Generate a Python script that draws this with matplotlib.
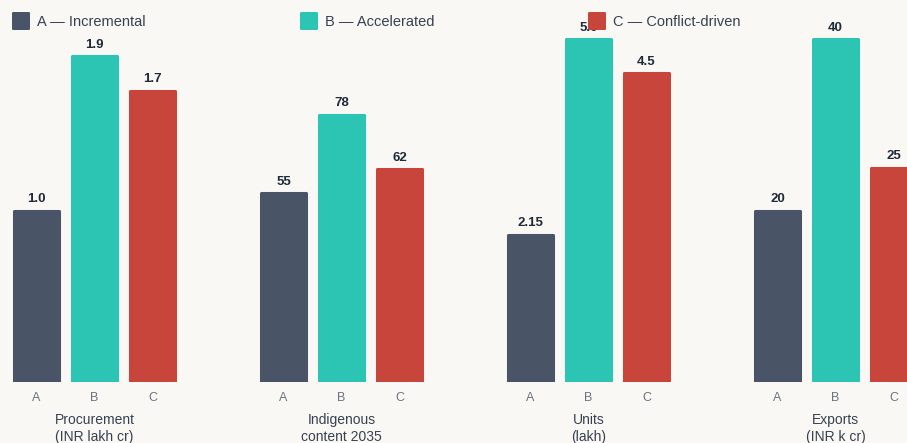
import matplotlib.pyplot as plt
from matplotlib.patches import FancyBboxPatch

plt.rcParams['font.family'] = ['Liberation Sans', 'DejaVu Sans']

# scenarios and their colours
scenarios = ['A', 'B', 'C']
scenario_names = ['A \u2014 Incremental', 'B \u2014 Accelerated', 'C \u2014 Conflict-driven']
colors = ['#4a5467', '#2cc5b4', '#c8453b']

# one panel per metric, each on its own scale
metrics = ['Procurement\n(INR lakh cr)', 'Indigenous\ncontent 2035', 'Units\n(lakh)', 'Exports\n(INR k cr)']
procurement = [1.0, 1.9, 1.7]
indigenous = [55, 78, 62]
units = [2.15, 5.0, 4.5]
exports = [20, 40, 25]
panel_values = [procurement, indigenous, units, exports]
# lower bound for each panel's axis top (before 5% headroom)
axis_floor = [2, 100, 0, 0]

W, H = 907, 443
fig = plt.figure(figsize=(W / 100, H / 100), dpi=100, facecolor='#f9f8f4')

def px(x, y):
    return x / W, 1 - y / H

for k, (name, vals) in enumerate(zip(metrics, panel_values)):
    left = 7.5 + 247 * k
    ax = fig.add_axes([left / W, 61 / H, 174 / W, 360 / H])
    ax.set_facecolor('none')
    # thick round-joined edge gives the bars soft corners
    bars = ax.bar(range(3), vals, width=0.78, color=colors, edgecolor=colors,
                  linewidth=2.2)
    for b in bars:
        b.set_joinstyle('round')
    top = max(max(vals), axis_floor[k]) * 1.05
    ax.set_ylim(0, top)
    ax.set_xlim(-0.5, 2.5)
    for i, v in enumerate(vals):
        ax.annotate(str(v), xy=(i, v), xytext=(0, 4), textcoords='offset points',
                    ha='center', va='bottom', fontsize=9.5, fontweight='bold',
                    color='#1f2937')
    ax.set_xticks(range(3), scenarios)
    ax.tick_params(axis='x', length=0, pad=7.5, labelsize=9, labelcolor='#6b7280')
    ax.set_yticks([])
    for s in ax.spines.values():
        s.set_visible(False)
    ax.annotate(name, xy=(1, 0), xycoords=('data', 'axes fraction'),
                xytext=(0, -22.5), textcoords='offset points', ha='center', va='top',
                fontsize=10, color='#374151', linespacing=1.25)

# legend row across the top
for j, (label, c) in enumerate(zip(scenario_names, colors)):
    x0 = 12 + 288 * j
    fx, fy = px(x0, 30)
    fig.add_artist(FancyBboxPatch((fx, fy), 18 / W, 18 / H,
                                  boxstyle='round,pad=0,rounding_size=0.002',
                                  transform=fig.transFigure, facecolor=c,
                                  edgecolor='none'))
    tx, ty = px(x0 + 25, 21.5)
    fig.text(tx, ty, label, ha='left', va='center', fontsize=10.5, color='#374151')

fig.savefig('out.png', dpi=100, facecolor=fig.get_facecolor())
